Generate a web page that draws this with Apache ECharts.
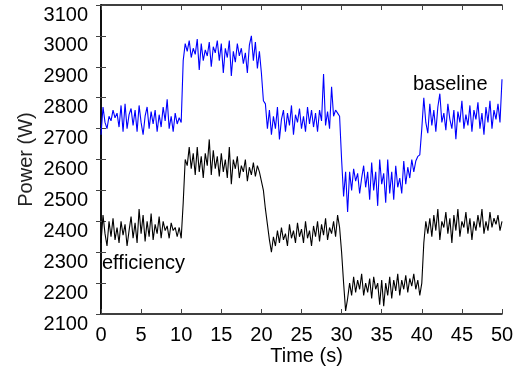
<!DOCTYPE html>
<html>
<head>
<meta charset="utf-8">
<script src="https://cdn.jsdelivr.net/npm/echarts@6/dist/echarts.min.js"></script>
<style>
html,body{margin:0;padding:0;background:#fff;}
#chart{width:517px;height:366px;}
</style>
</head>
<body>
<div id="chart"></div>
<script>
// sampling step of both series (seconds)
const timeStep = 0.25;
const xTicks = [0, 5, 10, 15, 20, 25, 30, 35, 40, 45, 50];
const yTicks = [2100, 2200, 2300, 2400, 2500, 2600, 2700, 2800, 2900, 3000, 3100];

const baseline = [
  2680,2770,2720,2700,2740,2725,2760,2735,2750,2705,2775,2690,2780,2700,2745,2765,
  2710,2760,2690,2775,2720,2680,2740,2770,2700,2755,2715,2760,2690,2745,2705,2770,
  2725,2795,2700,2740,2690,2750,2715,2735,
  2720,2920,2975,2950,2985,2930,2960,2940,2990,2890,2975,2920,2955,2935,2980,2900,
  2965,2945,2985,2920,2975,2880,2960,2930,2985,2870,2950,2915,2975,2935,2960,2910,
  2945,2880,2970,3000,2920,2980,2895,2950,
  2880,2790,2780,2700,2760,2680,2740,2700,2770,2665,2730,2760,2690,2750,2710,2775,
  2680,2745,2720,2765,2700,2740,2690,2770,2715,2760,2705,2750,2690,2760,2725,2877,
  2710,2755,2700,2835,2740,2760,2750,2740,
  2600,2480,2560,2430,2560,2500,2570,2530,2555,2490,2540,2580,2510,2560,2470,2590,
  2500,2560,2450,2600,2520,2555,2460,2600,2490,2560,2470,2580,2510,2540,2490,2595,
  2520,2575,2540,2600,2560,2595,2610,2615,
  2700,2800,2720,2685,2780,2710,2760,2690,2770,2813,2720,2750,2695,2780,2730,2700,
  2760,2666,2755,2720,2790,2700,2745,2710,2775,2690,2760,2730,2785,2700,2750,2680,
  2770,2720,2790,2700,2760,2730,2780,2720,2860
];

const efficiency = [
  2330,2420,2360,2320,2400,2350,2410,2340,2380,2330,2400,2355,2390,2320,2370,2415,
  2345,2395,2330,2440,2360,2420,2335,2400,2350,2425,2340,2390,2360,2415,2345,2400,
  2370,2385,2345,2395,2370,2380,2350,2380,
  2345,2460,2600,2580,2640,2570,2620,2550,2640,2560,2610,2540,2620,2580,2665,2550,
  2630,2570,2610,2545,2620,2560,2600,2540,2640,2520,2600,2570,2610,2540,2580,2560,
  2600,2530,2575,2550,2590,2545,2580,2560,
  2530,2500,2440,2390,2340,2300,2350,2320,2370,2330,2380,2340,2360,2320,2390,2345,
  2370,2330,2395,2350,2375,2330,2400,2345,2370,2320,2385,2350,2400,2335,2390,2355,
  2410,2340,2380,2360,2400,2350,2420,2380,
  2300,2200,2110,2150,2200,2160,2220,2170,2210,2180,2230,2160,2200,2170,2215,2150,
  2220,2180,2200,2130,2210,2125,2200,2160,2220,2150,2210,2175,2230,2160,2210,2180,
  2225,2170,2215,2190,2230,2180,2210,2160,
  2200,2330,2400,2360,2410,2350,2420,2370,2440,2340,2400,2380,2430,2360,2410,2330,
  2420,2370,2440,2350,2400,2380,2430,2360,2410,2340,2400,2370,2420,2380,2440,2360,
  2400,2370,2430,2380,2410,2390,2420,2370,2400
];

const seriesNames = ['baseline', 'efficiency'];
const xTitle = 'Time (s)';
const yTitle = 'Power (W)';

function pairs(arr) { return arr.map((v, i) => [i * timeStep, v]); }

const FONT = 'Liberation Sans, Arial, Helvetica, sans-serif';
const chart = echarts.init(document.getElementById('chart'), null, {renderer: 'canvas'});

const axisLineStyle = {show: true, lineStyle: {color: '#000', width: 1.5}};
const tickStyle = {show: true, inside: true, length: 5, lineStyle: {color: '#444', width: 1}};
const plain = v => String(v);

chart.setOption({
  animation: false,
  backgroundColor: '#fff',
  grid: {left: 101, right: 15, top: 5, bottom: 52, containLabel: false, outerBoundsMode: 'none'},
  xAxis: [{
    type: 'value', min: xTicks[0], max: xTicks[xTicks.length - 1], interval: 5,
    position: 'bottom',
    axisLine: axisLineStyle, axisTick: tickStyle, splitLine: {show: false},
    axisLabel: {color: '#000', fontSize: 20, fontFamily: FONT, margin: 11, formatter: plain},
    name: xTitle, nameLocation: 'middle', nameGap: 32, nameMoveOverlap: false,
    nameTextStyle: {color: '#000', fontSize: 20, fontFamily: FONT, padding: [0, 0, 0, 10]}
  }, {
    type: 'value', min: xTicks[0], max: xTicks[xTicks.length - 1], interval: 5,
    position: 'top',
    axisLine: axisLineStyle, axisTick: tickStyle, splitLine: {show: false},
    axisLabel: {show: false}
  }],
  yAxis: [{
    type: 'value', min: yTicks[0], max: yTicks[yTicks.length - 1], interval: 100,
    position: 'left',
    axisLine: axisLineStyle, axisTick: tickStyle, splitLine: {show: false},
    axisLabel: {color: '#000', fontSize: 20, fontFamily: FONT, margin: 13, verticalAlign: 'top',
      formatter: plain},
    name: yTitle, nameLocation: 'middle', nameGap: 65, nameMoveOverlap: false,
    nameTextStyle: {color: '#222', fontSize: 20, fontFamily: FONT}
  }, {
    type: 'value', min: yTicks[0], max: yTicks[yTicks.length - 1], interval: 100,
    position: 'right',
    axisLine: axisLineStyle, axisTick: tickStyle, splitLine: {show: false},
    axisLabel: {show: false}
  }],
  series: [{
    name: seriesNames[0], type: 'line', data: pairs(baseline),
    xAxisIndex: 0, yAxisIndex: 0,
    showSymbol: false, lineStyle: {color: '#0000ff', width: 1.1}, itemStyle: {color: '#0000ff'}
  }, {
    name: seriesNames[1], type: 'line', data: pairs(efficiency),
    xAxisIndex: 0, yAxisIndex: 0,
    showSymbol: false, lineStyle: {color: '#000000', width: 1.1}, itemStyle: {color: '#000'}
  }],
  graphic: [{
    type: 'text', left: 413, top: 74,
    style: {text: seriesNames[0], fill: '#000', font: '20px ' + FONT}
  }, {
    type: 'text', left: 102, top: 253,
    style: {text: seriesNames[1], fill: '#000', font: '20px ' + FONT}
  }]
});
</script>
</body>
</html>
